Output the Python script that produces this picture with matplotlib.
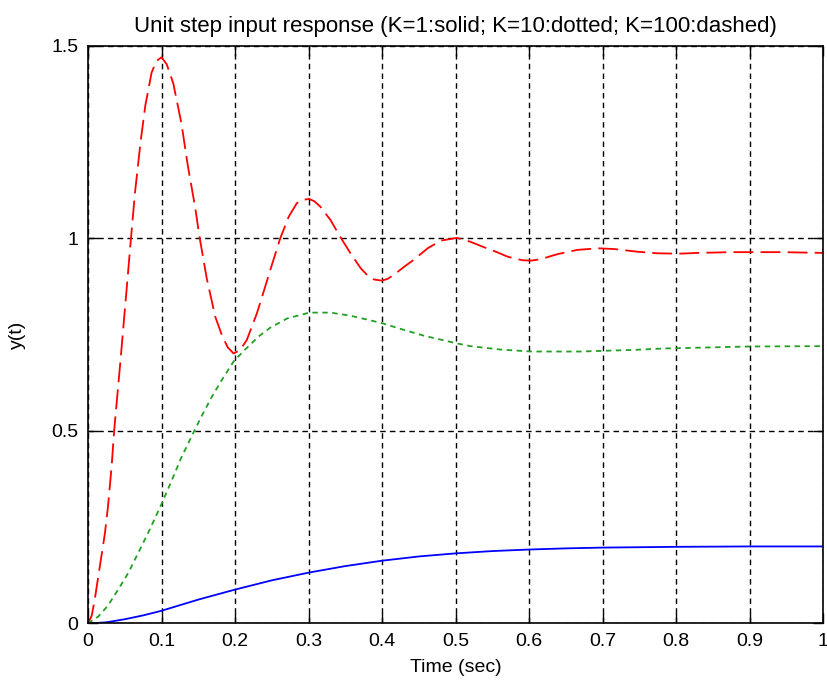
import numpy as np
import matplotlib
matplotlib.use('Agg')
import matplotlib.pyplot as plt

plt.rcParams['font.family'] = ['Liberation Sans', 'DejaVu Sans']

# K=100 (dashed, red)
t_k100 = [0, 0.005, 0.009, 0.016, 0.023, 0.027, 0.032, 0.036, 0.041, 0.045,
          0.049, 0.054, 0.058, 0.064, 0.0715, 0.078, 0.0865, 0.093, 0.100,
          0.107, 0.116, 0.127, 0.136, 0.1456, 0.152, 0.1615, 0.173, 0.182,
          0.19, 0.198, 0.207, 0.216, 0.2297, 0.239, 0.248, 0.2615, 0.273,
          0.284, 0.292, 0.301, 0.308, 0.316, 0.33, 0.343, 0.357, 0.371, 0.381,
          0.389, 0.400, 0.408, 0.416, 0.43, 0.443, 0.462, 0.48, 0.502, 0.52,
          0.537, 0.555, 0.571, 0.591, 0.603, 0.616, 0.639, 0.666, 0.694, 0.716,
          0.748, 0.775, 0.803, 0.830, 0.875, 0.944, 1.0]
y_k100 = [0, 0.02, 0.06, 0.147, 0.234, 0.30, 0.405, 0.51, 0.615, 0.70,
          0.79, 0.90, 0.99, 1.12, 1.25, 1.345, 1.43, 1.46, 1.470,
          1.452, 1.402, 1.299, 1.186, 1.082, 1.0, 0.896, 0.797, 0.749,
          0.717, 0.701, 0.710, 0.736, 0.805, 0.862, 0.918, 1.0, 1.056,
          1.091, 1.100, 1.102, 1.096, 1.082, 1.047, 1.004, 0.961, 0.922, 0.902,
          0.893, 0.890, 0.895, 0.905, 0.926, 0.944, 0.974, 0.994, 1.001, 0.991,
          0.978, 0.965, 0.952, 0.943, 0.942, 0.946, 0.959, 0.970, 0.974, 0.972,
          0.965, 0.961, 0.960, 0.962, 0.964, 0.964, 0.962]

# K=10 (dotted, green)
t_k10 = [0, 0.014, 0.027, 0.041, 0.055, 0.068, 0.082, 0.100, 0.114, 0.127,
         0.141, 0.155, 0.168, 0.182, 0.198, 0.212, 0.232, 0.248, 0.271, 0.301,
         0.33, 0.357, 0.384, 0.401, 0.43, 0.457, 0.484, 0.502, 0.52, 0.562,
         0.603, 0.67, 0.703, 0.739, 0.784, 0.853, 0.898, 1.0]
y_k10 = [0, 0.018, 0.046, 0.088, 0.132, 0.182, 0.236, 0.31, 0.372, 0.431,
         0.486, 0.540, 0.587, 0.632, 0.68, 0.708, 0.745, 0.768, 0.792, 0.807,
         0.807, 0.799, 0.787, 0.779, 0.762, 0.747, 0.735, 0.727, 0.720, 0.711,
         0.706, 0.706, 0.708, 0.710, 0.714, 0.717, 0.719, 0.720]

# K=1 (solid, blue)
t_k1 = [0, 0.025, 0.05, 0.075, 0.1, 0.15, 0.2, 0.25, 0.3, 0.35, 0.4, 0.45,
        0.5, 0.55, 0.6, 0.65, 0.7, 0.75, 0.8, 0.9, 1.0]
y_k1 = [0, 0.003, 0.011, 0.021, 0.033, 0.062, 0.088, 0.112, 0.132, 0.149,
        0.163, 0.174, 0.182, 0.188, 0.192, 0.195, 0.197, 0.198, 0.199,
        0.200, 0.200]

xticks = [0, 0.1, 0.2, 0.3, 0.4, 0.5, 0.6, 0.7, 0.8, 0.9, 1]
xtick_labels = ['0', '0.1', '0.2', '0.3', '0.4', '0.5', '0.6', '0.7', '0.8', '0.9', '1']
yticks = [0, 0.5, 1, 1.5]
ytick_labels = ['0', '0.5', '1', '1.5']

fig = plt.figure(figsize=(8.27, 6.9), dpi=100)
ax = fig.add_axes([0.1064, 0.0964, 0.889, 0.8374])

ax.plot(t_k1, y_k1, color='#0000ff', lw=1.3)
ax.plot(t_k10, y_k10, color='#22a022', lw=1.3, linestyle=(0, (3, 2.5)))
ax.plot(t_k100, y_k100, color='#ff0000', lw=1.3, linestyle=(0, (11, 4)))

ax.set_xlim(0, 1)
ax.set_ylim(0, 1.5)
ax.set_xticks(xticks)
ax.set_xticklabels(xtick_labels)
ax.set_yticks(yticks)
ax.set_yticklabels(ytick_labels)

ax.grid(True, color='black', linestyle=(0, (4, 3)), lw=1.0)
ax.tick_params(direction='in', length=7, width=1, labelsize=14,
               top=True, right=True, pad=7)
for sp in ax.spines.values():
    sp.set_linewidth(1.2)

ax.set_title('Unit step input response (K=1:solid; K=10:dotted; K=100:dashed)',
             fontsize=16, pad=10)
ax.set_xlabel('Time (sec)', fontsize=14)
ax.set_ylabel('y(t)', fontsize=14)
ax.xaxis.set_label_coords(0.5, -0.062)
ax.yaxis.set_label_coords(-0.085, 0.5)

fig.savefig('out.png', dpi=100, facecolor='white')
